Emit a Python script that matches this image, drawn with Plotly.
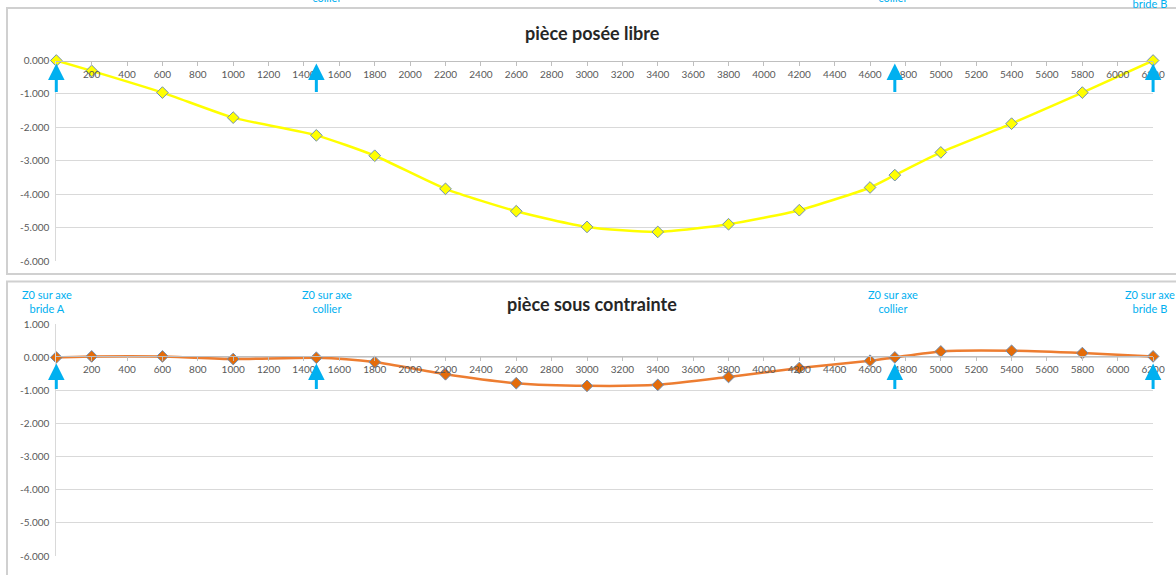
import plotly.graph_objects as go

W, H = 1176, 575

# ---- data ----
x_pos = [0, 200, 600, 1000, 1470, 1800, 2200, 2600, 3000, 3400, 3800, 4200, 4600, 4740, 5000, 5400, 5800, 6200]
libre = [0.0, -0.31, -0.96, -1.71, -2.24, -2.85, -3.84, -4.51, -4.98, -5.13, -4.90, -4.48, -3.80, -3.43, -2.75, -1.89, -0.96, 0.0]
contrainte = [0.0, 0.03, 0.03, -0.05, -0.01, -0.14, -0.51, -0.78, -0.86, -0.83, -0.59, -0.32, -0.10, 0.0, 0.18, 0.20, 0.13, 0.03]

x_ticks = list(range(200, 6201, 200))
x_ticklabels = [str(v) for v in x_ticks]
y_ticks_top = [0, -1, -2, -3, -4, -5, -6]
y_labels_top = ["0.000", "-1.000", "-2.000", "-3.000", "-4.000", "-5.000", "-6.000"]
y_ticks_bot = [1, 0, -1, -2, -3, -4, -5, -6]
y_labels_bot = ["1.000", "0.000", "-1.000", "-2.000", "-3.000", "-4.000", "-5.000", "-6.000"]

titles = ["pièce posée libre", "pièce sous contrainte"]
support_x = [0, 1470, 4740, 6200]
support_text = ["Z0 sur axe<br>bride A", "Z0 sur axe<br>collier", "Z0 sur axe<br>collier", "Z0 sur axe<br>bride B"]


def px_x(p):
    return p / W


def px_y(p):
    return 1 - p / H


FONT = "Lato"
BLUE = "#00b0f0"
GRID = "#d9d9d9"
TICKC = "#595959"

fig = go.Figure()

fig.add_trace(go.Scatter(
    x=x_pos, y=libre, xaxis="x", yaxis="y", mode="lines+markers",
    line=dict(color="#ffff00", width=2.5, shape="spline", smoothing=0.6),
    marker=dict(symbol="diamond", size=9, color="#ffff00", line=dict(color="#6f8fb5", width=1)),
    cliponaxis=False, showlegend=False))

fig.add_trace(go.Scatter(
    x=x_pos, y=contrainte, xaxis="x2", yaxis="y2", mode="lines+markers",
    line=dict(color="#ed7d31", width=2.5, shape="spline", smoothing=0.6),
    marker=dict(symbol="diamond", size=9, color="#e46c0a", line=dict(color="#6f8fb5", width=1)),
    cliponaxis=False, showlegend=False))

xdom = [px_x(56.3), px_x(1153.1)]
xcommon = dict(
    domain=xdom, range=[0, 6200], tickvals=x_ticks, ticktext=x_ticklabels,
    showgrid=False, zeroline=False, showline=True, linecolor="#bfbfbf", linewidth=1,
    ticks="outside", ticklen=4, tickcolor="#bfbfbf", side="bottom", anchor="free",
    automargin=False, ticklabeloverflow="allow",
    tickfont=dict(family=FONT, size=10, color=TICKC), fixedrange=True)

ycommon = dict(
    showgrid=True, gridcolor=GRID, gridwidth=1, zeroline=False,
    showline=True, linecolor=GRID, linewidth=1, ticks="", automargin=False,
    tickfont=dict(family=FONT, size=10, color=TICKC), ticklabelstandoff=4, fixedrange=True)

fig.update_layout(
    width=W, height=H, autosize=False, margin=dict(l=0, r=0, t=0, b=0, pad=0, autoexpand=False),
    paper_bgcolor="white", plot_bgcolor="white",
    xaxis=dict(**xcommon, position=px_y(60.5)),
    xaxis2=dict(**xcommon, position=px_y(356)),
    yaxis=dict(**ycommon, domain=[px_y(261), px_y(60.5)], range=[-6, 0],
               tickvals=y_ticks_top, ticktext=y_labels_top, anchor="x"),
    yaxis2=dict(**ycommon, domain=[px_y(556), px_y(324.3)], range=[-6, 1],
                tickvals=y_ticks_bot, ticktext=y_labels_bot, anchor="x2"),
)

# frames
fig.add_shape(type="rect", xref="paper", yref="paper", x0=px_x(7), x1=px_x(1190),
              y0=px_y(590), y1=px_y(281.5), line=dict(color="#d0d0d0", width=2), layer="below")
fig.add_shape(type="rect", xref="paper", yref="paper", x0=px_x(7), x1=px_x(1190),
              y0=px_y(274), y1=px_y(8), line=dict(color="#d0d0d0", width=2), layer="below")

# titles
fig.add_annotation(text="<b>" + titles[0] + "</b>", xref="paper", yref="paper",
                   x=px_x(592), y=px_y(33), showarrow=False, xanchor="center", yanchor="middle",
                   font=dict(family=FONT, size=18, color="#262626"))
fig.add_annotation(text="<b>" + titles[1] + "</b>", xref="paper", yref="paper",
                   x=px_x(592), y=px_y(304), showarrow=False, xanchor="center", yanchor="middle",
                   font=dict(family=FONT, size=18, color="#262626"))

# support labels (bottom chart, fully visible)
label_px_bot = [47, 327, 893, 1150]
for px, t in zip(label_px_bot, support_text):
    fig.add_annotation(text=t, xref="paper", yref="paper", x=px_x(px), y=px_y(301),
                       showarrow=False, align="center", xanchor="center", yanchor="middle",
                       font=dict(family=FONT, size=11, color=BLUE))
# support labels (top chart, cut off at top edge as in the source)
label_px_top = [(327, -9), (893, -9), (1150, -3)]
for (px, py), t in zip(label_px_top, support_text[1:]):
    fig.add_annotation(text=t, xref="paper", yref="paper", x=px_x(px), y=px_y(py),
                       showarrow=False, align="center", xanchor="center", yanchor="middle",
                       font=dict(family=FONT, size=11, color=BLUE))

# arrows at supports
for sx in support_x:
    fig.add_annotation(x=sx, y=0, xref="x", yref="y", text="", showarrow=True,
                       ax=0, ay=33, arrowhead=2, arrowsize=1.1, arrowwidth=3,
                       arrowcolor=BLUE, standoff=3)
    fig.add_annotation(x=sx, y=0, xref="x2", yref="y2", text="", showarrow=True,
                       ax=0, ay=33, arrowhead=2, arrowsize=1.1, arrowwidth=3,
                       arrowcolor=BLUE, standoff=6)

fig.write_html(
    "out.html",
    config={"responsive": False, "displayModeBar": False},
    post_script=(
        "document.documentElement.style.margin='0';"
        "document.documentElement.style.overflow='hidden';"
        "document.body.style.margin='0';document.body.style.padding='0';"
        "document.body.style.overflow='hidden';"
        "var gd=document.getElementById('{plot_id}');"
        "gd.style.position='fixed';gd.style.left='0px';gd.style.top='0px';"
    ),
)
